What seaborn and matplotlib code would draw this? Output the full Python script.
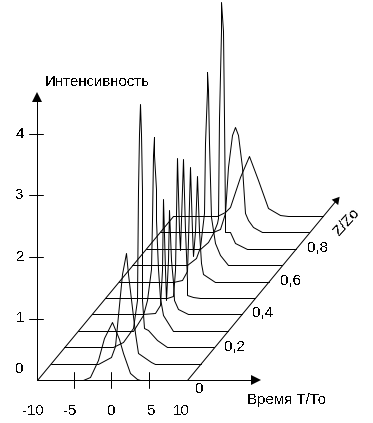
import pandas as pd
import seaborn as sns
import matplotlib
matplotlib.use('Agg')
import matplotlib.pyplot as plt

# distance along the fibre
z_values = [0.0, 0.1, 0.2, 0.3, 0.4, 0.5, 0.6, 0.7, 0.8, 0.9, 1.0]

# pulse profiles: time T/To and intensity for each z
t_00 = [-3.7, -2.8, -1.8, -1.0, 0.05, 1.0, 1.6, 2.5, 3.4, 3.8]
i_00 = [0, 0.05, 0.33, 0.68, 0.95, 0.66, 0.44, 0.11, 0.01, 0]
t_01 = [-3.6, -1.9, -1.3, -0.35, 0.1, 0.45, 1.4, 1.8, 3.4, 4.0]
i_01 = [0, 0.1, 0.28, 1.45, 1.8, 1.45, 0.5, 0.18, 0.02, 0]
t_02 = [-3.34, -2.0, -0.7, -0.2, -0.12, 0.07, 0.15, 0.33, 0.46, 0.5, 0.68, 1.3, 2.5, 3.8]
i_02 = [0, 0.08, 0.31, 0.76, 2.55, 3.46, 3.95, 3.46, 2.55, 0.76, 0.31, 0.28, 0.11, 0]
t_03 = [-2.5, -1.17, -0.64, -0.17, -0.07, 0.07, 0.2, 0.3, 0.52, 0.55, 0.8, 1.08, 1.5, 2.8]
i_03 = [0, 0.26, 0.5, 1.0, 1.8, 2.86, 3.15, 2.86, 2.3, 1.8, 1.0, 0.54, 0.26, 0]
t_04 = [-3.0, -1.4, -0.7, -0.5, -0.3, -0.05, 0.08, 0.28, 0.48, 0.68, 1.0, 1.15, 1.65, 2.9]
i_04 = [0, 0.03, 0.15, 0.72, 1.87, 0.72, 0.23, 0.88, 1.7, 0.88, 0.52, 0.23, 0.08, 0]
t_05 = [-1.6, -0.8, -0.53, -0.26, -0.07, 0.13, 0.53, 0.8, 1.06, 1.06, 1.85, 2.8]
i_05 = [0, 0.03, 0.45, 2.27, 1.1, 0.78, 2.26, 1.1, 0.3, 0.05, 0.02, 0]
t_06 = [-2.6, -1.44, -0.74, -0.6, -0.34, -0.08, 0.05, 0.32, 0.58, 0.85, 1.1, 1.38, 3.0]
i_06 = [0, 0.02, 0.18, 0.67, 1.87, 0.83, 0.42, 0.83, 1.72, 0.83, 0.31, 0.13, 0]
t_07 = [-2.57, -1.38, -0.85, -0.32, -0.15, 0.04, 0.12, 0.25, 0.38, 0.6, 0.87, 1.14, 1.8, 2.86]
i_07 = [0, 0.11, 0.29, 0.85, 1.98, 2.85, 3.14, 2.85, 1.98, 0.78, 0.57, 0.36, 0.16, 0]
t_08 = [-2.65, -1.6, -0.93, -0.4, -0.23, -0.09, 0.09, 0.17, 0.36, 0.53, 0.66, 0.66, 1.32, 2.0, 3.6]
i_08 = [0, 0.11, 0.26, 0.42, 0.5, 2.13, 3.54, 4.02, 3.54, 2.13, 0.5, 0.28, 0.28, 0.1, 0]
t_09 = [-2.7, -1.8, -1.14, -0.74, -0.21, 0.19, 0.58, 1.07, 1.5, 1.9, 2.57, 3.76]
i_09 = [0, 0.05, 0.31, 1.06, 1.58, 1.71, 1.58, 1.06, 0.31, 0.2, 0.08, 0]
t_10 = [-4.0, -2.94, -2.28, -0.95, 0.24, 1.43, 2.75, 4.34, 5.4]
i_10 = [0, 0.07, 0.15, 0.63, 0.98, 0.59, 0.13, 0.02, 0]

times = [t_00, t_01, t_02, t_03, t_04, t_05, t_06, t_07, t_08, t_09, t_10]
intensities = [i_00, i_01, i_02, i_03, i_04, i_05, i_06, i_07, i_08, i_09, i_10]

x_ticks = [-5, 0, 5]
y_ticks = [1, 2, 3, 4]

W, H = 373, 423
X0, X_SCALE = 111.3, 7.55   # pixel of T=0, pixels per T unit
Y0, Y_SCALE = 380, 61.5     # pixel of I=0, pixels per I unit
SHEAR, LIFT = 18.0, 2.667   # oblique projection of z onto T and I
T_LEFT, T_RIGHT = -9.8, 10.05
LW = 0.72

sns.set_style('white')
plt.rcParams['font.family'] = ['Liberation Sans', 'DejaVu Sans']
plt.rcParams['text.antialiased'] = False

rows = []
for z, ts, vals in zip(z_values, times, intensities):
    for t, v in zip([T_LEFT] + ts + [T_RIGHT], [0] + vals + [0]):
        rows.append({'z': z, 'sx': t + SHEAR * z, 'sy': v + LIFT * z})
df = pd.DataFrame(rows)

fig = plt.figure(figsize=(W / 100, H / 100), dpi=100)
ax = fig.add_axes([0, 0, 1, 1])

sns.lineplot(data=df, x='sx', y='sy', units='z', estimator=None, sort=False,
             color='black', linewidth=LW, legend=False, snap=True, ax=ax)

ax.set_xlim(-X0 / X_SCALE, (W - X0) / X_SCALE)
ax.set_ylim((Y0 - H) / Y_SCALE, Y0 / Y_SCALE)
ax.axis('off')

line = dict(color='black', linewidth=LW, snap=True)

# axes of the oblique frame
Z_TIP = 1.097
X_TIP, Y_TIP = 19.1, 4.6
ax.plot([T_LEFT, X_TIP], [0, 0], **line)
ax.plot([T_LEFT, T_LEFT], [0, Y_TIP], **line)
ax.plot([T_RIGHT, T_RIGHT + SHEAR * Z_TIP], [0, LIFT * Z_TIP], **line)
ax.plot([T_LEFT, T_LEFT + SHEAR], [0, LIFT], **line)

# arrow heads
ax.plot(X_TIP, 0, marker='>', ms=7, color='black', mew=0)
ax.plot(T_LEFT, Y_TIP, marker='^', ms=7, color='black', mew=0)
ax.plot(T_RIGHT + SHEAR * Z_TIP, LIFT * Z_TIP, marker=(3, 0, -40), ms=7, color='black', mew=0)

# tick marks
for t in x_ticks:
    ax.plot([t, t], [-8 / Y_SCALE, 8 / Y_SCALE], **line)
for v in y_ticks:
    ax.plot([T_LEFT - 8 / X_SCALE, T_LEFT + 6 / X_SCALE], [v, v], **line)


def label(x, y, s, **kw):
    fig.text(x / W, 1 - y / H, s, fontsize=10.8, color='black', ha='center', va='center', **kw)


for s, x, y in [('0', 20, 369), ('1', 20, 318), ('2', 20, 257), ('3', 20, 195), ('4', 20, 134)]:
    label(x, y, s)
for s, x in [('-10', 33), ('-5', 70), ('0', 112), ('5', 152), ('10', 181)]:
    label(x, 411, s)
for s, x, y in [('0', 200, 389), ('0,2', 235, 347), ('0,4', 263, 313), ('0,6', 291, 281), ('0,8', 318, 248)]:
    label(x, y, s)
label(97, 82, 'Интенсивность')
label(287, 400, 'Время Т/То')
label(347, 222, 'Z/Zo', rotation=48)

fig.savefig('out.png', dpi=100)
